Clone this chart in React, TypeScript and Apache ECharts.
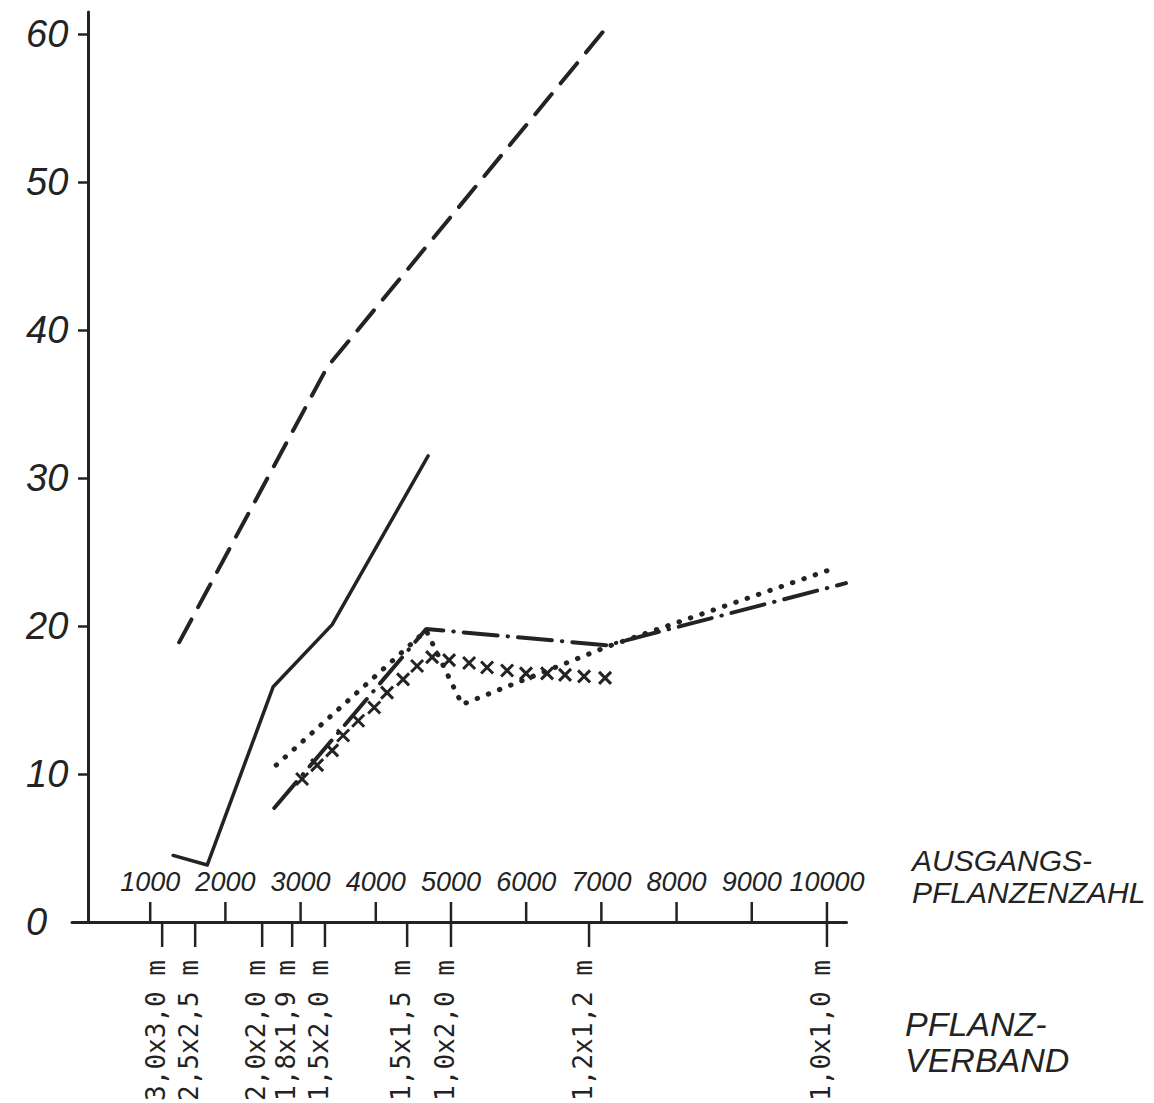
import React, { useEffect, useRef } from "react";
import * as echarts from "echarts";

// ---- data ----
const xTickValues = [1000, 2000, 3000, 4000, 5000, 6000, 7000, 8000, 9000, 10000];
const yTickValues = [0, 10, 20, 30, 40, 50, 60];

const dashedSeries = [
  [1385, 18.9],
  [3354, 37.5],
  [7076, 60.5],
];
const solidSeries = [
  [1305, 4.5],
  [1758, 3.85],
  [2636, 15.9],
  [3420, 20.1],
  [4696, 31.5],
];
const dashDotSeries = [
  [2650, 7.7],
  [4670, 19.8],
  [7075, 18.7],
  [10253, 22.9],
];
const dottedSeries = [
  [2675, 10.6],
  [4670, 19.7],
  [5148, 14.7],
  [7075, 18.6],
  [10093, 23.9],
];
const crossSeries = [
  [3020, 9.66],
  [3220, 10.6],
  [3420, 11.6],
  [3566, 12.6],
  [3766, 13.6],
  [3979, 14.5],
  [4150, 15.5],
  [4363, 16.4],
  [4549, 17.3],
  [4749, 17.9],
  [4975, 17.7],
  [5241, 17.5],
  [5480, 17.2],
  [5746, 17.0],
  [5998, 16.8],
  [6278, 16.8],
  [6517, 16.7],
  [6770, 16.6],
  [7049, 16.5],
];

const pflanzValues = [1159, 1598, 2489, 2888, 3324, 4417, 5000, 6836, 10000];
const pflanzLabels = [
  "3,0x3,0 m",
  "2,5x2,5 m",
  "2,0x2,0 m",
  "1,8x1,9 m",
  "1,5x2,0 m",
  "1,5x1,5 m",
  "1,0x2,0 m",
  "1,2x1,2 m",
  "1,0x1,0 m",
];

const INK = "#232323";
const HAND = "'Liberation Sans', 'DejaVu Sans', sans-serif";

export default function App() {
  const ref = useRef<HTMLDivElement>(null);

  useEffect(() => {
    if (!ref.current) return;
    const chart = echarts.init(ref.current, null, { renderer: "svg" });

    const option: any = {
      animation: false,
      backgroundColor: "#ffffff",
      grid: { left: 72, right: 307.5, top: 12, bottom: 181, containLabel: false },
      xAxis: {
        type: "value",
        min: -40,
        max: 10260,
        splitLine: { show: false },
        axisLine: { show: true, onZero: false, lineStyle: { color: INK, width: 3 } },
        axisTick: { show: false },
        axisLabel: {
          show: true,
          inside: true,
          margin: 27,
          customValues: xTickValues,
          formatter: (v: number) => String(v),
          color: INK,
          fontSize: 27,
          fontStyle: "italic",
          fontFamily: HAND,
        },
      },
      yAxis: {
        type: "value",
        min: 0,
        max: 61.5,
        offset: -16,
        splitLine: { show: false },
        axisLine: { show: true, onZero: false, lineStyle: { color: INK, width: 3 } },
        axisTick: {
          show: true,
          length: 10,
          customValues: yTickValues.filter((v) => v > 0),
          lineStyle: { color: INK, width: 2.5 },
        },
        axisLabel: {
          show: true,
          customValues: yTickValues,
          formatter: (v: number) => String(v),
          align: "left",
          margin: 62,
          color: INK,
          fontSize: 38,
          fontStyle: "italic",
          fontFamily: HAND,
        },
      },
      series: [
        {
          type: "line",
          data: dashedSeries,
          showSymbol: false,
          clip: false,
          lineStyle: { color: INK, width: 4, type: [26, 14], cap: "round" },
        },
        {
          type: "line",
          data: solidSeries,
          showSymbol: false,
          clip: false,
          lineStyle: { color: INK, width: 3.5, type: "solid", cap: "round", join: "round" },
        },
        {
          type: "line",
          data: dashDotSeries,
          showSymbol: false,
          clip: false,
          lineStyle: { color: INK, width: 4, type: [34, 10, 0.5, 10], cap: "round" },
        },
        {
          type: "line",
          data: dottedSeries,
          showSymbol: false,
          clip: false,
          lineStyle: { color: INK, width: 5, type: [0.5, 11.5], cap: "round" },
        },
        {
          type: "scatter",
          data: crossSeries,
          clip: false,
          symbol: "path://M0,0L10,10M10,0L0,10",
          symbolSize: 12,
          itemStyle: { color: "rgba(0,0,0,0)", borderColor: INK, borderWidth: 3, opacity: 1 },
        },
        {
          // upward ticks of the plant-number axis
          type: "custom",
          clip: false,
          silent: true,
          data: xTickValues.map((v) => [v, 0]),
          encode: { x: 0, y: 1 },
          renderItem: (params: any, api: any) => {
            const p = api.coord([api.value(0), 0]);
            return {
              type: "line",
              shape: { x1: p[0], y1: p[1], x2: p[0], y2: p[1] - 20 },
              style: { stroke: INK, lineWidth: 2.5 },
            };
          },
        },
        {
          // Pflanzverband ticks and labels below the axis
          type: "custom",
          clip: false,
          silent: true,
          data: pflanzValues.map((v, i) => [v, 0, i]),
          encode: { x: 0, y: 1 },
          renderItem: (params: any, api: any) => {
            const p = api.coord([api.value(0), 0]);
            const idx = api.value(2);
            return {
              type: "group",
              children: [
                {
                  type: "line",
                  shape: { x1: p[0], y1: p[1], x2: p[0], y2: p[1] + 25 },
                  style: { stroke: INK, lineWidth: 2.5 },
                },
                {
                  type: "text",
                  x: p[0] - 6,
                  y: p[1] + 38,
                  rotation: Math.PI / 2,
                  style: {
                    text: pflanzLabels[idx],
                    fill: INK,
                    fontSize: 26,
                    fontFamily: "'DejaVu Sans Mono', monospace",
                    align: "right",
                    verticalAlign: "middle",
                  },
                },
              ],
            };
          },
        },
      ],
      graphic: [
        {
          type: "text",
          left: 912,
          top: 845,
          style: { text: "AUSGANGS-", fill: INK, fontSize: 30, lineHeight: 30, fontStyle: "italic", fontFamily: HAND },
        },
        {
          type: "text",
          left: 912,
          top: 877,
          style: { text: "PFLANZENZAHL", fill: INK, fontSize: 30, lineHeight: 30, fontStyle: "italic", fontFamily: HAND },
        },
        {
          type: "text",
          left: 905,
          top: 1007,
          style: { text: "PFLANZ-", fill: INK, fontSize: 34, lineHeight: 34, fontStyle: "italic", fontFamily: HAND },
        },
        {
          type: "text",
          left: 905,
          top: 1043,
          style: { text: "VERBAND", fill: INK, fontSize: 34, lineHeight: 34, fontStyle: "italic", fontFamily: HAND },
        },
      ],
    };

    chart.setOption(option);
    return () => chart.dispose();
  }, []);

  return (
    <div
      ref={ref}
      style={{ position: "fixed", left: 0, top: 0, width: 1154, height: 1103, background: "#fff" }}
    />
  );
}
